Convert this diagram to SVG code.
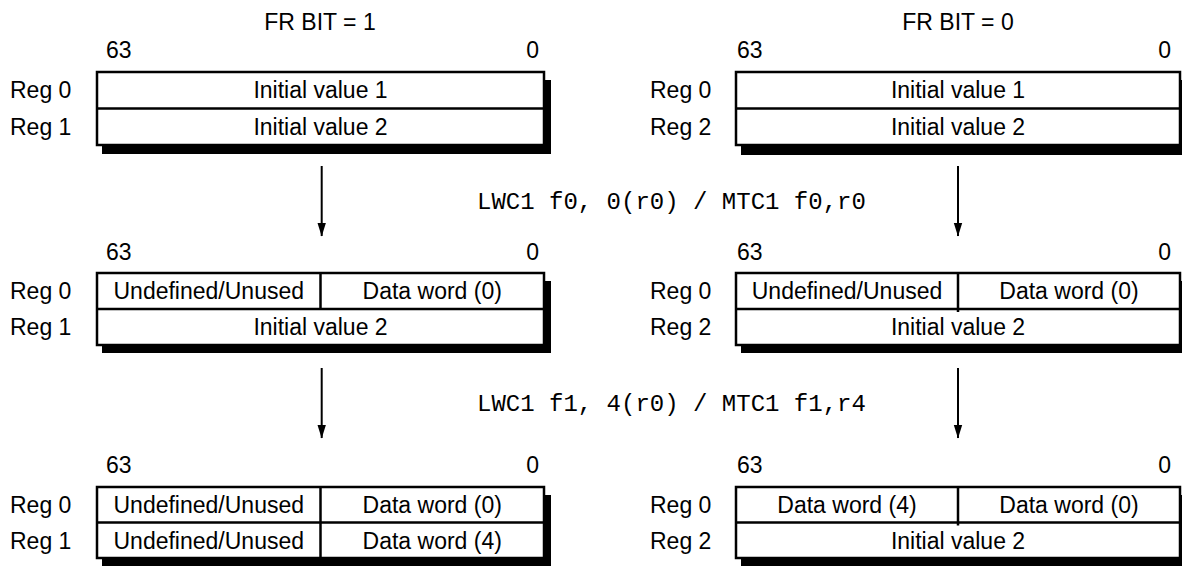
<svg xmlns="http://www.w3.org/2000/svg" width="1182" height="566" viewBox="0 0 1182 566">
<defs>
<style>
.t{font-family:"Liberation Sans",Arial,sans-serif;font-size:23px;fill:#000}
.c{text-anchor:middle}
.e{text-anchor:end}
.m{font-family:"Liberation Mono","Courier New",monospace;font-size:24px;fill:#000}
.box{fill:#fff;stroke:#000;stroke-width:2.5}
.ln{stroke:#000;stroke-width:2.5;fill:none}
.sh{fill:#000}
.arr{stroke:#000;stroke-width:2;fill:none}
</style>
<marker id="ahd" markerUnits="userSpaceOnUse" markerWidth="14" markerHeight="10" refX="12.5" refY="4" orient="auto" viewBox="0 0 13 8">
<path d="M0,0 L13,4 L0,8 Z" fill="#000"/>
</marker>
</defs>
<rect width="1182" height="566" fill="#fff"/>

<text class="t c" x="320" y="30">FR BIT = 1</text>
<text class="t c" x="958" y="30">FR BIT = 0</text>

<!-- Left top -->
<g id="left-initial">
<text class="t" x="106" y="58">63</text>
<text class="t e" x="539" y="58">0</text>
<text class="t" x="10" y="98">Reg 0</text>
<text class="t" x="10" y="134.5">Reg 1</text>
<rect class="sh" x="102" y="80" width="449" height="74"/>
<rect class="box" x="97" y="72" width="447" height="73"/>
<line class="ln" x1="97" y1="108.5" x2="544" y2="108.5"/>
<text class="t c" x="320.5" y="98">Initial value 1</text>
<text class="t c" x="320.5" y="134.5">Initial value 2</text>
</g>

<!-- Right top -->
<g id="right-initial">
<text class="t" x="737" y="58">63</text>
<text class="t e" x="1171" y="58">0</text>
<text class="t" x="650" y="98">Reg 0</text>
<text class="t" x="650" y="134.5">Reg 2</text>
<rect class="sh" x="741" y="80" width="449" height="75"/>
<rect class="box" x="736" y="72" width="444" height="73"/>
<line class="ln" x1="736" y1="108.5" x2="1180" y2="108.5"/>
<text class="t c" x="958" y="98">Initial value 1</text>
<text class="t c" x="958" y="134.5">Initial value 2</text>
</g>

<!-- Left middle -->
<g id="left-after-f0">
<text class="t" x="106" y="260">63</text>
<text class="t e" x="539" y="260">0</text>
<text class="t" x="10" y="299">Reg 0</text>
<text class="t" x="10" y="335">Reg 1</text>
<rect class="sh" x="102" y="281" width="449" height="72"/>
<rect class="box" x="97" y="273" width="447" height="72"/>
<line class="ln" x1="97" y1="309" x2="544" y2="309"/>
<line class="ln" x1="320.5" y1="273" x2="320.5" y2="309"/>
<text class="t c" x="208.75" y="299">Undefined/Unused</text>
<text class="t c" x="432.25" y="299">Data word (0)</text>
<text class="t c" x="320.5" y="335">Initial value 2</text>
</g>

<!-- Right middle -->
<g id="right-after-f0">
<text class="t" x="737" y="260">63</text>
<text class="t e" x="1171" y="260">0</text>
<text class="t" x="650" y="299">Reg 0</text>
<text class="t" x="650" y="335">Reg 2</text>
<rect class="sh" x="741" y="281" width="449" height="72"/>
<rect class="box" x="736" y="273" width="444" height="72"/>
<line class="ln" x1="736" y1="309" x2="1180" y2="309"/>
<line class="ln" x1="958" y1="273" x2="958" y2="312"/>
<text class="t c" x="847" y="299">Undefined/Unused</text>
<text class="t c" x="1069" y="299">Data word (0)</text>
<text class="t c" x="958" y="335">Initial value 2</text>
</g>

<!-- Left bottom -->
<g id="left-after-f1">
<text class="t" x="106" y="473">63</text>
<text class="t e" x="539" y="473">0</text>
<text class="t" x="10" y="513">Reg 0</text>
<text class="t" x="10" y="548.5">Reg 1</text>
<rect class="sh" x="102" y="495" width="449" height="71"/>
<rect class="box" x="97" y="487" width="447" height="71"/>
<line class="ln" x1="97" y1="522.5" x2="544" y2="522.5"/>
<line class="ln" x1="320.5" y1="487" x2="320.5" y2="558"/>
<text class="t c" x="208.75" y="513">Undefined/Unused</text>
<text class="t c" x="432.25" y="513">Data word (0)</text>
<text class="t c" x="208.75" y="548.5">Undefined/Unused</text>
<text class="t c" x="432.25" y="548.5">Data word (4)</text>
</g>

<!-- Right bottom -->
<g id="right-after-f1">
<text class="t" x="737" y="473">63</text>
<text class="t e" x="1171" y="473">0</text>
<text class="t" x="650" y="513">Reg 0</text>
<text class="t" x="650" y="548.5">Reg 2</text>
<rect class="sh" x="741" y="495" width="449" height="71"/>
<rect class="box" x="736" y="487" width="444" height="71"/>
<line class="ln" x1="736" y1="522.5" x2="1180" y2="522.5"/>
<line class="ln" x1="958" y1="487" x2="958" y2="525.5"/>
<text class="t c" x="847" y="513">Data word (4)</text>
<text class="t c" x="1069" y="513">Data word (0)</text>
<text class="t c" x="958" y="548.5">Initial value 2</text>
</g>

<!-- Connectors -->
<g id="connectors">
<line class="arr" x1="321.7" y1="166" x2="321.7" y2="236" marker-end="url(#ahd)"/>
<line class="arr" x1="958" y1="166" x2="958" y2="236" marker-end="url(#ahd)"/>
<line class="arr" x1="321.7" y1="368" x2="321.7" y2="438" marker-end="url(#ahd)"/>
<line class="arr" x1="958" y1="368" x2="958" y2="438" marker-end="url(#ahd)"/>
<text class="m" x="477" y="209">LWC1 f0, 0(r0) / MTC1 f0,r0</text>
<text class="m" x="477" y="411">LWC1 f1, 4(r0) / MTC1 f1,r4</text>
</g>
</svg>
